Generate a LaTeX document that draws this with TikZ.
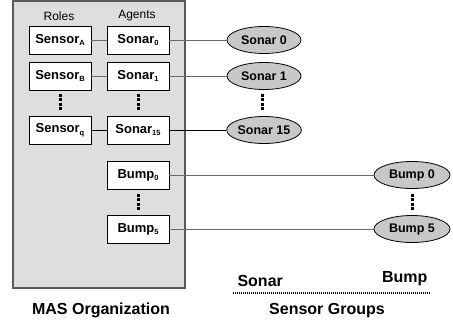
\documentclass[tikz,border=0pt]{standalone}
\usepackage{fontspec}
\setmainfont{Liberation Sans}
\usetikzlibrary{shapes.geometric}
\definecolor{orgfill}{HTML}{DEDEDE}
\definecolor{orgedge}{HTML}{5A5A5A}
\definecolor{ellfill}{HTML}{C8C8C8}
\definecolor{wire}{HTML}{6A6A6A}
\newcommand{\lowidx}[1]{\raisebox{-2.8pt}{\fontsize{7.5}{7.5}\selectfont #1}}
\tikzset{
  agentbox/.style={draw=black, fill=white, line width=0.8pt, minimum width=62pt,
    minimum height=28pt, inner sep=0pt, font=\fontsize{13}{13}\selectfont\bfseries},
  sensornode/.style={ellipse, draw=black, fill=ellfill, line width=0.8pt,
    minimum width=74pt, minimum height=27pt, inner sep=0pt,
    font=\fontsize{12.5}{12.5}\selectfont\bfseries},
  bumpnode/.style={sensornode, minimum width=76pt},
  vdots/.style={line width=3pt, dash pattern=on 3pt off 1.5pt},
  link/.style={line width=0.8pt, draw=wire},
  linkdark/.style={line width=0.8pt, draw=black},
  caption/.style={font=\fontsize{16}{16}\selectfont\bfseries},
  colhead/.style={font=\fontsize{12}{12}\selectfont}
}
\begin{document}
\begin{tikzpicture}[x=1pt, y=-1pt]
\useasboundingbox (0,0) rectangle (453,326);

% organization frame
\draw[fill=orgfill, draw=orgedge, line width=1.4pt] (13,1) rectangle (185,288);

\node[colhead] (roles) at (59,16) {Roles};
\node[colhead] (agents) at (137,16) {Agents};

% roles and agents
\node[agentbox] (sa) at (60,40) {Sensor\lowidx{A}};
\node[agentbox] (sb) at (60,76) {Sensor\lowidx{B}};
\node[agentbox] (sq) at (60,130) {Sensor\lowidx{q}};
\node[agentbox] (so0) at (138,40) {Sonar\lowidx{0}};
\node[agentbox] (so1) at (138,76) {Sonar\lowidx{1}};
\node[agentbox] (so15) at (138,130) {Sonar\lowidx{15}};
\node[agentbox] (bu0) at (138,175) {Bump\lowidx{0}};
\node[agentbox] (bu5) at (138,229) {Bump\lowidx{5}};

% sensor groups
\node[sensornode] (e0) at (264,40) {Sonar 0};
\node[sensornode] (e1) at (264,76) {Sonar 1};
\node[sensornode] (e15) at (264,130) {Sonar 15};
\node[bumpnode] (b0) at (412,175) {Bump 0};
\node[bumpnode] (b5) at (412,229) {Bump 5};

% continuation marks
\coordinate (d1a) at (60,94);  \coordinate (d1b) at (60,110.5);
\coordinate (d2a) at (138,94); \coordinate (d2b) at (138,110.5);
\coordinate (d3a) at (262,94); \coordinate (d3b) at (262,110.5);
\coordinate (d4a) at (138,194); \coordinate (d4b) at (138,210.5);
\coordinate (d5a) at (412,194); \coordinate (d5b) at (412,210.5);
\draw[vdots] (d1a) -- (d1b);
\draw[vdots] (d2a) -- (d2b);
\draw[vdots] (d3a) -- (d3b);
\draw[vdots] (d4a) -- (d4b);
\draw[vdots] (d5a) -- (d5b);

% connections
\draw[link] (sa) -- (so0);
\draw[link] (sb) -- (so1);
\draw[linkdark] (sq) -- (so15);
\draw[link] (so0) -- (e0);
\draw[link] (so1) -- (e1);
\draw[linkdark] (so15) -- (e15);
\draw[link] (bu0) -- (b0);
\draw[link] (bu5) -- (b5);

% captions
\node[caption] (mas) at (101,310) {MAS Organization};
\node[caption, anchor=base west] (sonarlbl) at (234,287) {Sonar};
\node[caption, anchor=base east] (bumplbl) at (431,283) {Bump};
\coordinate (gl) at (233,293);
\coordinate (gr) at (430,293);
\draw[line width=1.1pt, dash pattern=on 1.1pt off 0.9pt] (gl) -- (gr);
\node[caption] (groups) at (327,311) {Sensor Groups};
\end{tikzpicture}
\end{document}
